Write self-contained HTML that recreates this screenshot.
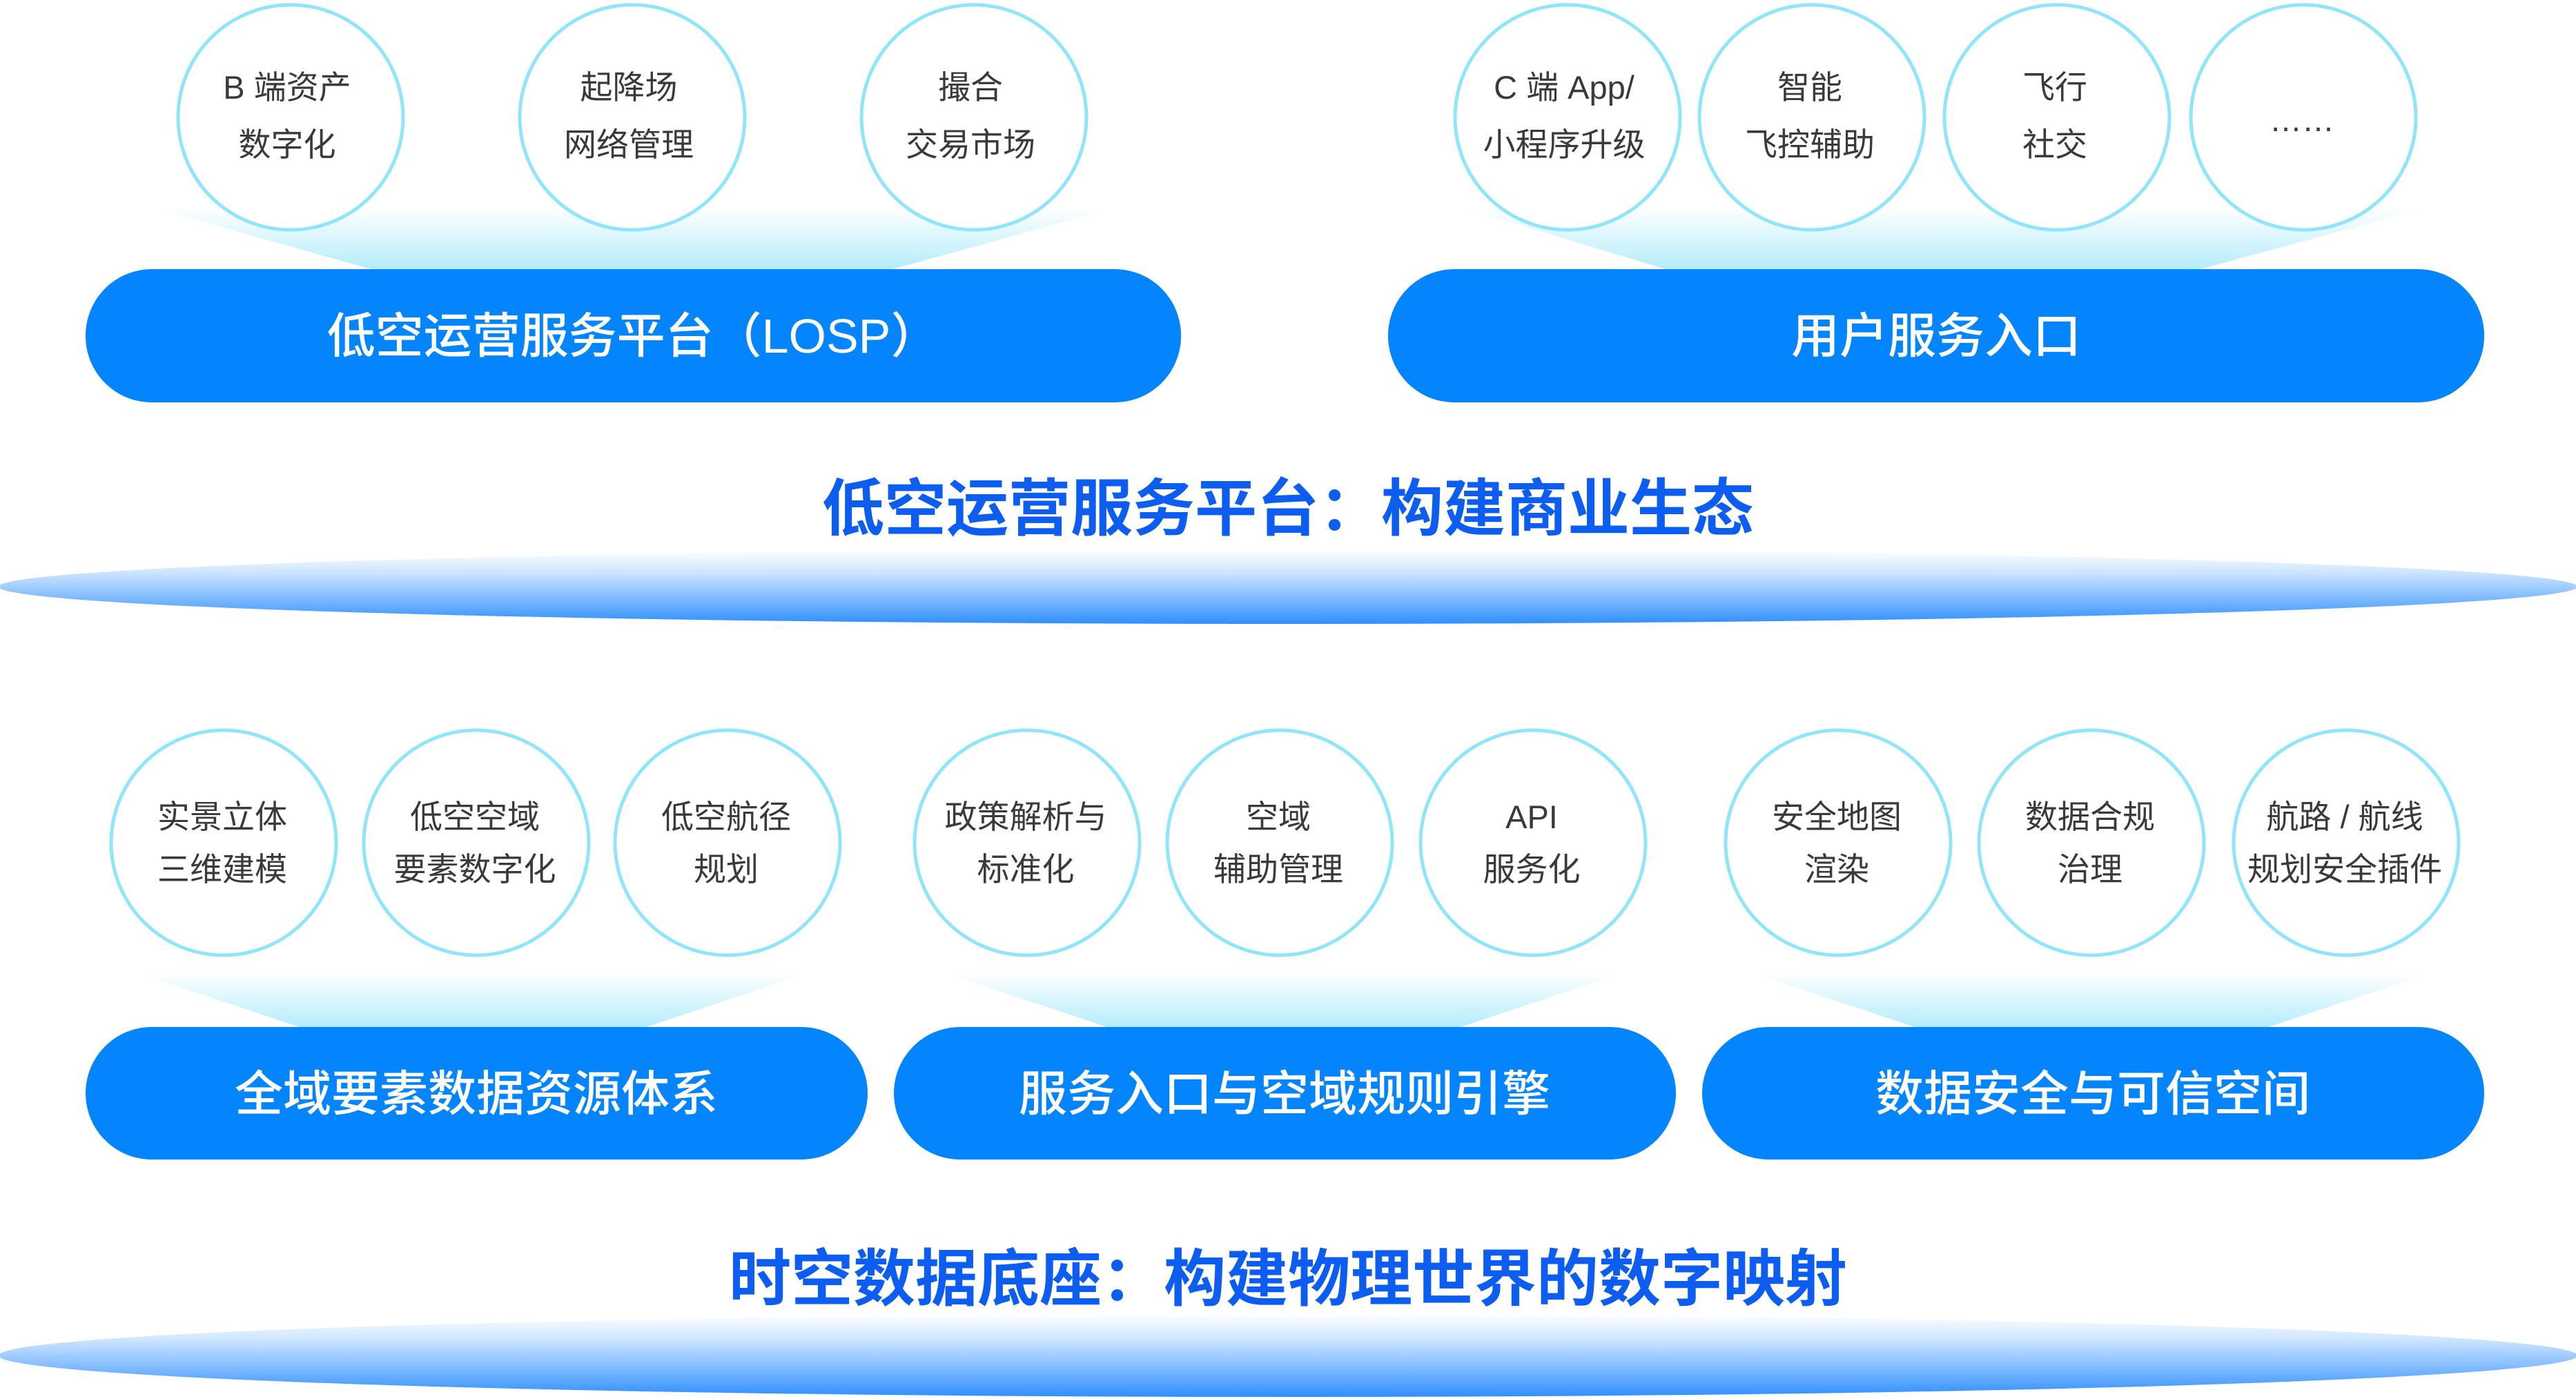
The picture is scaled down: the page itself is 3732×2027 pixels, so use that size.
<!DOCTYPE html>
<html><head><meta charset="utf-8"><style>
html,body{margin:0;padding:0;background:#fff}
svg{display:block}
text{font-family:"Liberation Sans","Noto Sans CJK SC",sans-serif}
.c{fill:#fff;stroke:#8fe5fb;stroke-width:5}
.ct{font-size:47px;fill:#3a3a3a;text-anchor:middle}
.p{fill:#0585fd}
.pt{font-size:70px;fill:#fff;text-anchor:middle;font-weight:500}
.tt{font-size:90px;fill:#0d5ef0;text-anchor:middle;font-weight:bold}
</style></head><body>
<svg width="3732" height="2027" viewBox="0 0 3732 2027" xmlns="http://www.w3.org/2000/svg">
<defs>
<linearGradient id="g" x1="0" y1="0" x2="0" y2="1">
<stop offset="0" stop-color="#b3ecfb" stop-opacity="0"/>
<stop offset="1" stop-color="#b3ecfb"/>
</linearGradient>
<linearGradient id="d" x1="0" y1="0" x2="0" y2="1">
<stop offset="0" stop-color="#ffffff"/>
<stop offset="0.3" stop-color="#cfe6ff"/>
<stop offset="1" stop-color="#2f8fff"/>
</linearGradient>
</defs>

<polygon points="218,300 1619,300 1286,392 545,392" fill="url(#g)"/>
<polygon points="2115,300 3520,300 3180,392 2420,392" fill="url(#g)"/>
<polygon points="200,1410 1170,1410 930,1490 440,1490" fill="url(#g)"/>
<polygon points="1370,1410 2350,1410 2110,1490 1610,1490" fill="url(#g)"/>
<polygon points="2540,1410 3520,1410 3280,1490 2780,1490" fill="url(#g)"/>

<circle class="c" cx="421" cy="170" r="163"/>
<circle class="c" cx="916" cy="170" r="163"/>
<circle class="c" cx="1411" cy="170" r="163"/>
<circle class="c" cx="2271" cy="170" r="163"/>
<circle class="c" cx="2625" cy="170" r="163"/>
<circle class="c" cx="2980" cy="170" r="163"/>
<circle class="c" cx="3337" cy="170" r="163"/>
<text class="ct" x="416" y="143">B 端资产</text><text class="ct" x="416" y="226">数字化</text>
<text class="ct" x="911" y="143">起降场</text><text class="ct" x="911" y="226">网络管理</text>
<text class="ct" x="1406" y="143">撮合</text><text class="ct" x="1406" y="226">交易市场</text>
<text class="ct" x="2266" y="143">C 端 App/</text><text class="ct" x="2266" y="226">小程序升级</text>
<text class="ct" x="2622" y="143">智能</text><text class="ct" x="2622" y="226">飞控辅助</text>
<text class="ct" x="2977" y="143">飞行</text><text class="ct" x="2977" y="226">社交</text>
<text class="ct" x="3335" y="190">……</text>

<rect class="p" x="124" y="390" width="1587" height="193" rx="96"/>
<rect class="p" x="2011" y="390" width="1588" height="193" rx="96"/>
<text class="pt" x="917" y="511">低空运营服务平台（LOSP）</text>
<text class="pt" x="2805" y="511">用户服务入口</text>

<ellipse cx="1866" cy="850" rx="1868" ry="54" fill="url(#d)"/>
<text class="tt" x="1866" y="768">低空运营服务平台：构建商业生态</text>

<circle class="c" cx="324" cy="1221" r="163"/>
<circle class="c" cx="690" cy="1221" r="163"/>
<circle class="c" cx="1054" cy="1221" r="163"/>
<circle class="c" cx="1488" cy="1221" r="163"/>
<circle class="c" cx="1854" cy="1221" r="163"/>
<circle class="c" cx="2221" cy="1221" r="163"/>
<circle class="c" cx="2663" cy="1221" r="163"/>
<circle class="c" cx="3030" cy="1221" r="163"/>
<circle class="c" cx="3399" cy="1221" r="163"/>
<text class="ct" x="322" y="1200">实景立体</text><text class="ct" x="322" y="1276">三维建模</text>
<text class="ct" x="688" y="1200">低空空域</text><text class="ct" x="688" y="1276">要素数字化</text>
<text class="ct" x="1052" y="1200">低空航径</text><text class="ct" x="1052" y="1276">规划</text>
<text class="ct" x="1486" y="1200">政策解析与</text><text class="ct" x="1486" y="1276">标准化</text>
<text class="ct" x="1852" y="1200">空域</text><text class="ct" x="1852" y="1276">辅助管理</text>
<text class="ct" x="2219" y="1200">API</text><text class="ct" x="2219" y="1276">服务化</text>
<text class="ct" x="2661" y="1200">安全地图</text><text class="ct" x="2661" y="1276">渲染</text>
<text class="ct" x="3028" y="1200">数据合规</text><text class="ct" x="3028" y="1276">治理</text>
<text class="ct" x="3397" y="1200">航路 / 航线</text><text class="ct" x="3397" y="1276">规划安全插件</text>

<rect class="p" x="124" y="1488" width="1133" height="192" rx="96"/>
<rect class="p" x="1295" y="1488" width="1133" height="192" rx="96"/>
<rect class="p" x="2466" y="1488" width="1133" height="192" rx="96"/>
<text class="pt" x="690" y="1609">全域要素数据资源体系</text>
<text class="pt" x="1861" y="1609">服务入口与空域规则引擎</text>
<text class="pt" x="3032" y="1609">数据安全与可信空间</text>

<ellipse cx="1866" cy="1964" rx="1868" ry="60" fill="url(#d)"/>
<text class="tt" x="1866" y="1884">时空数据底座：构建物理世界的数字映射</text>
</svg>
</body></html>
